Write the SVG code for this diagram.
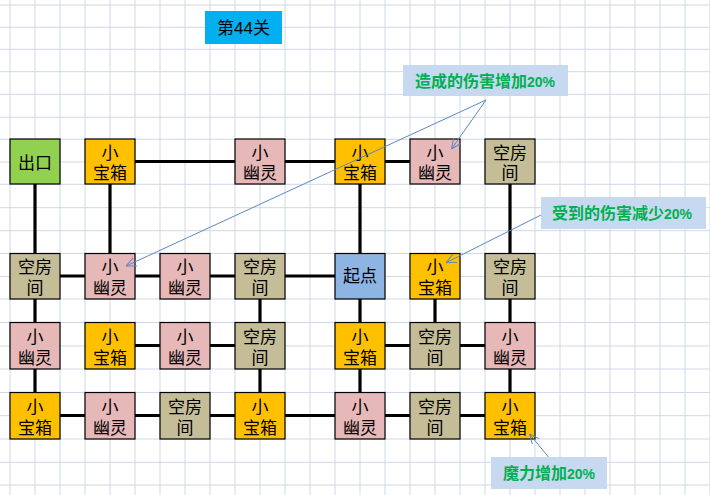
<svg xmlns="http://www.w3.org/2000/svg" width="710" height="495" viewBox="0 0 710 495">
<style>
.grid line{stroke:#D0D7E5;stroke-width:1}
.conn line{stroke:#000;stroke-width:3.2}
.box{stroke:#000;stroke-width:1.2}
.t{font-family:"Liberation Sans","Noto Sans CJK SC",sans-serif;font-size:17px;fill:#000;text-anchor:middle}
.chest{fill:#FFC000}
.ghost{fill:#E6B8B7}
.room{fill:#C4BD97}
.exit{fill:#92D050}
.start{fill:#8DB4E2}
.call{fill:#C6D9F1}
.ct{font-family:"Liberation Sans","Noto Sans CJK SC",sans-serif;font-size:16px;font-weight:bold;fill:#00B050}
.ct tspan.n{font-size:14px}
.arr line{stroke:#5B87C9;stroke-width:1}
</style>
<defs>
<marker id="ah" viewBox="0 0 10 10" refX="10" refY="5" markerWidth="10" markerHeight="10" markerUnits="userSpaceOnUse" orient="auto">
<path d="M0,0.5 L10,5 L0,9.5" fill="none" stroke="#5B87C9" stroke-width="1"/>
</marker>
</defs>
<rect x="0" y="0" width="710" height="495" fill="#fff"/>
<g class="grid">
<line x1="10" y1="0" x2="10" y2="495"/><line x1="35" y1="0" x2="35" y2="495"/><line x1="60" y1="0" x2="60" y2="495"/><line x1="85" y1="0" x2="85" y2="495"/><line x1="110" y1="0" x2="110" y2="495"/><line x1="135" y1="0" x2="135" y2="495"/><line x1="160" y1="0" x2="160" y2="495"/><line x1="185" y1="0" x2="185" y2="495"/><line x1="210" y1="0" x2="210" y2="495"/><line x1="235" y1="0" x2="235" y2="495"/><line x1="260" y1="0" x2="260" y2="495"/><line x1="285" y1="0" x2="285" y2="495"/><line x1="310" y1="0" x2="310" y2="495"/><line x1="335" y1="0" x2="335" y2="495"/><line x1="360" y1="0" x2="360" y2="495"/><line x1="385" y1="0" x2="385" y2="495"/><line x1="410" y1="0" x2="410" y2="495"/><line x1="435" y1="0" x2="435" y2="495"/><line x1="460" y1="0" x2="460" y2="495"/><line x1="485" y1="0" x2="485" y2="495"/><line x1="510" y1="0" x2="510" y2="495"/><line x1="535" y1="0" x2="535" y2="495"/><line x1="560" y1="0" x2="560" y2="495"/><line x1="585" y1="0" x2="585" y2="495"/><line x1="610" y1="0" x2="610" y2="495"/><line x1="635" y1="0" x2="635" y2="495"/><line x1="660" y1="0" x2="660" y2="495"/><line x1="685" y1="0" x2="685" y2="495"/><line x1="710" y1="0" x2="710" y2="495"/>
<line x1="0" y1="5" x2="710" y2="5"/><line x1="0" y1="27.3" x2="710" y2="27.3"/><line x1="0" y1="49.3" x2="710" y2="49.3"/><line x1="0" y1="71.7" x2="710" y2="71.7"/><line x1="0" y1="94.3" x2="710" y2="94.3"/><line x1="0" y1="117.3" x2="710" y2="117.3"/><line x1="0" y1="139.3" x2="710" y2="139.3"/><line x1="0" y1="162" x2="710" y2="162"/><line x1="0" y1="184.3" x2="710" y2="184.3"/><line x1="0" y1="207.7" x2="710" y2="207.7"/><line x1="0" y1="230.7" x2="710" y2="230.7"/><line x1="0" y1="253.5" x2="710" y2="253.5"/><line x1="0" y1="276.5" x2="710" y2="276.5"/><line x1="0" y1="299" x2="710" y2="299"/><line x1="0" y1="322.5" x2="710" y2="322.5"/><line x1="0" y1="346" x2="710" y2="346"/><line x1="0" y1="369" x2="710" y2="369"/><line x1="0" y1="392.5" x2="710" y2="392.5"/><line x1="0" y1="415.7" x2="710" y2="415.7"/><line x1="0" y1="439" x2="710" y2="439"/><line x1="0" y1="462.3" x2="710" y2="462.3"/><line x1="0" y1="485" x2="710" y2="485"/>
</g>
<g id="title">
<rect x="205" y="11" width="77" height="33" fill="#00B0F0"/>
<text class="t" x="243.5" y="33.5">第44关</text>
</g>
<g id="connectors" class="conn">
<line x1="130" y1="161.5" x2="240" y2="161.5"/><line x1="280" y1="161.5" x2="340" y2="161.5"/><line x1="380" y1="161.5" x2="415" y2="161.5"/>
<line x1="55" y1="276" x2="90" y2="276"/><line x1="130" y1="276" x2="165" y2="276"/><line x1="205" y1="276" x2="240" y2="276"/><line x1="280" y1="276" x2="340" y2="276"/>
<line x1="130" y1="345.5" x2="165" y2="345.5"/><line x1="205" y1="345.5" x2="240" y2="345.5"/><line x1="380" y1="345.5" x2="415" y2="345.5"/><line x1="455" y1="345.5" x2="490" y2="345.5"/>
<line x1="55" y1="415.5" x2="90" y2="415.5"/><line x1="130" y1="415.5" x2="165" y2="415.5"/><line x1="205" y1="415.5" x2="240" y2="415.5"/><line x1="280" y1="415.5" x2="340" y2="415.5"/><line x1="380" y1="415.5" x2="415" y2="415.5"/><line x1="455" y1="415.5" x2="490" y2="415.5"/>
<line x1="35" y1="180" x2="35" y2="258"/><line x1="35" y1="295" x2="35" y2="327"/><line x1="35" y1="365" x2="35" y2="397"/>
<line x1="110" y1="180" x2="110" y2="258"/>
<line x1="360" y1="180" x2="360" y2="258"/><line x1="360" y1="295" x2="360" y2="327"/><line x1="360" y1="365" x2="360" y2="397"/>
<line x1="510" y1="180" x2="510" y2="258"/><line x1="510" y1="295" x2="510" y2="327"/><line x1="510" y1="365" x2="510" y2="397"/>
<line x1="260" y1="295" x2="260" y2="327"/><line x1="260" y1="365" x2="260" y2="397"/>
<line x1="435" y1="295" x2="435" y2="327"/>
</g>
<!-- row 1 -->
<g id="n-exit"><rect class="box exit" x="10" y="139" width="50" height="45"/><text class="t" x="35" y="169">出口</text></g>
<g id="n-r1c2"><rect class="box chest" x="85" y="139" width="50" height="45"/><text class="t" x="110" y="158.5">小<tspan x="110" dy="20.5">宝箱</tspan></text></g>
<g id="n-r1c4"><rect class="box ghost" x="235" y="139" width="50" height="45"/><text class="t" x="260" y="158.5">小<tspan x="260" dy="20.5">幽灵</tspan></text></g>
<g id="n-r1c5"><rect class="box chest" x="335" y="139" width="50" height="45"/><text class="t" x="360" y="158.5">小<tspan x="360" dy="20.5">宝箱</tspan></text></g>
<g id="n-r1c6"><rect class="box ghost" x="410" y="139" width="50" height="45"/><text class="t" x="435" y="158.5">小<tspan x="435" dy="20.5">幽灵</tspan></text></g>
<g id="n-r1c7"><rect class="box room" x="485" y="139" width="50" height="45"/><text class="t" x="510" y="158.5">空房<tspan x="510" dy="20.5">间</tspan></text></g>
<!-- row 2 -->
<g id="n-r2c1"><rect class="box room" x="10" y="253.5" width="50" height="45.5"/><text class="t" x="35" y="273">空房<tspan x="35" dy="21">间</tspan></text></g>
<g id="n-r2c2"><rect class="box ghost" x="85" y="253.5" width="50" height="45.5"/><text class="t" x="110" y="273">小<tspan x="110" dy="21">幽灵</tspan></text></g>
<g id="n-r2c3"><rect class="box ghost" x="160" y="253.5" width="50" height="45.5"/><text class="t" x="185" y="273">小<tspan x="185" dy="21">幽灵</tspan></text></g>
<g id="n-r2c4"><rect class="box room" x="235" y="253.5" width="50" height="45.5"/><text class="t" x="260" y="273">空房<tspan x="260" dy="21">间</tspan></text></g>
<g id="n-start"><rect class="box start" x="335" y="253.5" width="50" height="45.5"/><text class="t" x="360" y="282">起点</text></g>
<g id="n-r2c6"><rect class="box chest" x="410" y="253.5" width="50" height="45.5"/><text class="t" x="435" y="273">小<tspan x="435" dy="21">宝箱</tspan></text></g>
<g id="n-r2c7"><rect class="box room" x="485" y="253.5" width="50" height="45.5"/><text class="t" x="510" y="273">空房<tspan x="510" dy="21">间</tspan></text></g>
<!-- row 3 -->
<g id="n-r3c1"><rect class="box ghost" x="10" y="322.5" width="50" height="46.5"/><text class="t" x="35" y="342.5">小<tspan x="35" dy="21.5">幽灵</tspan></text></g>
<g id="n-r3c2"><rect class="box chest" x="85" y="322.5" width="50" height="46.5"/><text class="t" x="110" y="342.5">小<tspan x="110" dy="21.5">宝箱</tspan></text></g>
<g id="n-r3c3"><rect class="box ghost" x="160" y="322.5" width="50" height="46.5"/><text class="t" x="185" y="342.5">小<tspan x="185" dy="21.5">幽灵</tspan></text></g>
<g id="n-r3c4"><rect class="box room" x="235" y="322.5" width="50" height="46.5"/><text class="t" x="260" y="342.5">空房<tspan x="260" dy="21.5">间</tspan></text></g>
<g id="n-r3c5"><rect class="box chest" x="335" y="322.5" width="50" height="46.5"/><text class="t" x="360" y="342.5">小<tspan x="360" dy="21.5">宝箱</tspan></text></g>
<g id="n-r3c6"><rect class="box room" x="410" y="322.5" width="50" height="46.5"/><text class="t" x="435" y="342.5">空房<tspan x="435" dy="21.5">间</tspan></text></g>
<g id="n-r3c7"><rect class="box ghost" x="485" y="322.5" width="50" height="46.5"/><text class="t" x="510" y="342.5">小<tspan x="510" dy="21.5">幽灵</tspan></text></g>
<!-- row 4 -->
<g id="n-r4c1"><rect class="box chest" x="10" y="392.5" width="50" height="46.5"/><text class="t" x="35" y="412.5">小<tspan x="35" dy="21.5">宝箱</tspan></text></g>
<g id="n-r4c2"><rect class="box ghost" x="85" y="392.5" width="50" height="46.5"/><text class="t" x="110" y="412.5">小<tspan x="110" dy="21.5">幽灵</tspan></text></g>
<g id="n-r4c3"><rect class="box room" x="160" y="392.5" width="50" height="46.5"/><text class="t" x="185" y="412.5">空房<tspan x="185" dy="21.5">间</tspan></text></g>
<g id="n-r4c4"><rect class="box chest" x="235" y="392.5" width="50" height="46.5"/><text class="t" x="260" y="412.5">小<tspan x="260" dy="21.5">宝箱</tspan></text></g>
<g id="n-r4c5"><rect class="box ghost" x="335" y="392.5" width="50" height="46.5"/><text class="t" x="360" y="412.5">小<tspan x="360" dy="21.5">幽灵</tspan></text></g>
<g id="n-r4c6"><rect class="box room" x="410" y="392.5" width="50" height="46.5"/><text class="t" x="435" y="412.5">空房<tspan x="435" dy="21.5">间</tspan></text></g>
<g id="n-r4c7"><rect class="box chest" x="485" y="392.5" width="50" height="46.5"/><text class="t" x="510" y="412.5">小<tspan x="510" dy="21.5">宝箱</tspan></text></g>
<g id="annotation-arrows" class="arr">
<line x1="486" y1="100" x2="451.5" y2="149" marker-end="url(#ah)"/>
<line x1="486" y1="100" x2="126" y2="266" marker-end="url(#ah)"/>
<line x1="541" y1="215" x2="446" y2="262.7" marker-end="url(#ah)"/>
<line x1="548.5" y1="457" x2="529.5" y2="434" marker-end="url(#ah)"/>
</g>
<g id="callout-damage-up">
<rect class="call" x="403" y="65" width="165" height="31"/>
<text class="ct" x="415" y="86.5">造成的伤害增加<tspan class="n">20%</tspan></text>
</g>
<g id="callout-damage-down">
<rect class="call" x="541" y="197" width="165" height="32"/>
<text class="ct" x="552" y="219">受到的伤害减少<tspan class="n">20%</tspan></text>
</g>
<g id="callout-magic">
<rect class="call" x="491" y="457" width="116" height="32"/>
<text class="ct" x="503" y="479">魔力增加<tspan class="n">20%</tspan></text>
</g>
</svg>
